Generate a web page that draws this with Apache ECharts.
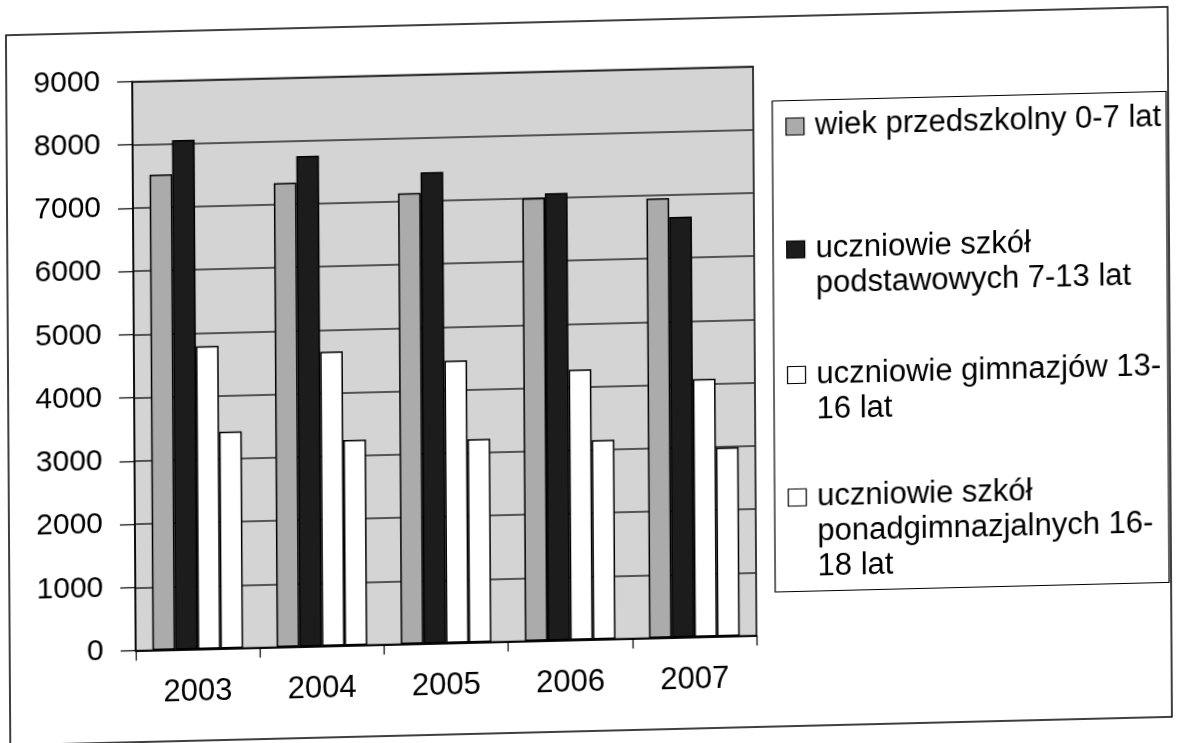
<!DOCTYPE html>
<html>
<head>
<meta charset="utf-8">
<title>Uczniowie 2003-2007</title>
<script src="https://cdn.jsdelivr.net/npm/echarts@6/dist/echarts.min.js"></script>
<style>
  html, body { margin: 0; padding: 0; background: #fff; overflow: hidden; }
  /* skan jest lekko przekrzywiony */
  #chart { width: 1181px; height: 743px; transform: rotate(-0.35deg) skewY(-1.05deg); transform-origin: 50% 50%; }
</style>
</head>
<body>
<div id="chart"></div>
<script>
const years = ['2003', '2004', '2005', '2006', '2007'];
const seriesNames = [
  'wiek przedszkolny 0-7 lat',
  'uczniowie szkół podstawowych 7-13 lat',
  'uczniowie gimnazjów 13-16 lat',
  'uczniowie szkół ponadgimnazjalnych 16-18 lat'
];
const legendLabels = [
  'wiek przedszkolny 0-7 lat',
  'uczniowie szkół\npodstawowych 7-13 lat',
  'uczniowie gimnazjów 13-\n16 lat',
  'uczniowie szkół\nponadgimnazjalnych 16-\n18 lat'
];
const przedszkolny = [7520, 7340, 7130, 7005, 6950];
const podstawowe = [8060, 7760, 7455, 7075, 6650];
const gimnazja = [4790, 4655, 4465, 4275, 4075];
const ponadgimnazjalne = [3430, 3250, 3215, 3150, 2985];
const yTicks = ['0', '1000', '2000', '3000', '4000', '5000', '6000', '7000', '8000', '9000'];

const font = '"Liberation Sans", Arial, sans-serif';
const colors = ['#ababab', '#1c1c1c', '#ffffff', '#ffffff'];
const values = [przedszkolny, podstawowe, gimnazja, ponadgimnazjalne];

const chart = echarts.init(document.getElementById('chart'));

const lineH = 35;
const iconCenters = [131.5, 254.5, 380, 502.5]; // srodki kwadracikow legendy

// kwadracik ma stac przy pierwszej linii, wiec dokladamy puste linie na gorze
const legends = seriesNames.map(function (name, i) {
  const lines = legendLabels[i].split('\n').length;
  const label = '\n'.repeat(lines - 1) + legendLabels[i];
  return {
    data: [name],
    orient: 'vertical',
    left: 787,
    top: iconCenters[i] - (2 * lines - 1) * lineH / 2,
    padding: 0,
    itemWidth: 18,
    itemHeight: 17,
    icon: 'rect',
    selectedMode: false,
    itemStyle: { borderColor: '#000', borderWidth: 1.2 },
    formatter: function () { return label; },
    textStyle: {
      fontFamily: font,
      fontSize: 31,
      color: '#000',
      lineHeight: lineH,
      padding: [0, 0, 0, 6]
    }
  };
});

const series = seriesNames.map(function (name, i) {
  return {
    name: name,
    type: 'bar',
    data: values[i],
    barGap: '0%',
    barCategoryGap: '27%',
    itemStyle: { color: colors[i], borderColor: '#000', borderWidth: 1.5 },
    emphasis: { disabled: true }
  };
});

const option = {
  animation: false,
  backgroundColor: '#fff',
  grid: {
    left: 134,
    right: 426,
    top: 70.5,
    bottom: 103.5,
    show: true,
    backgroundColor: '#d4d4d4',
    borderColor: '#000',
    borderWidth: 1.5,
    containLabel: false,
    outerBoundsMode: 'none'
  },
  legend: legends,
  xAxis: {
    type: 'category',
    data: years,
    axisLine: { lineStyle: { color: '#000', width: 1.5 } },
    axisTick: { show: true, length: 10, lineStyle: { color: '#000', width: 1.2 } },
    axisLabel: { fontFamily: font, fontSize: 31, color: '#000', margin: 27 }
  },
  yAxis: {
    type: 'value',
    min: 0,
    max: 9000,
    interval: 1000,
    axisLine: { show: true, lineStyle: { color: '#000', width: 1.5 } },
    axisTick: { show: true, length: 15, lineStyle: { color: '#000', width: 1.2 } },
    axisLabel: {
      fontFamily: font, fontSize: 30, color: '#000', margin: 32,
      formatter: function (v) { return yTicks[Math.round(v / 1000)]; }
    },
    splitLine: { show: true, lineStyle: { color: '#2a2a2a', width: 1.6 } }
  },
  graphic: [
    {
      type: 'rect', silent: true, z: 0,
      shape: { x: 8, y: 21, width: 1162, height: 710 },
      style: { fill: 'none', stroke: '#000', lineWidth: 1.5 }
    },
    {
      type: 'rect', silent: true, z: 0,
      shape: { x: 774, y: 105.5, width: 394, height: 491 },
      style: { fill: 'none', stroke: '#000', lineWidth: 1.2 }
    }
  ],
  series: series
};

chart.setOption(option);
</script>
</body>
</html>
